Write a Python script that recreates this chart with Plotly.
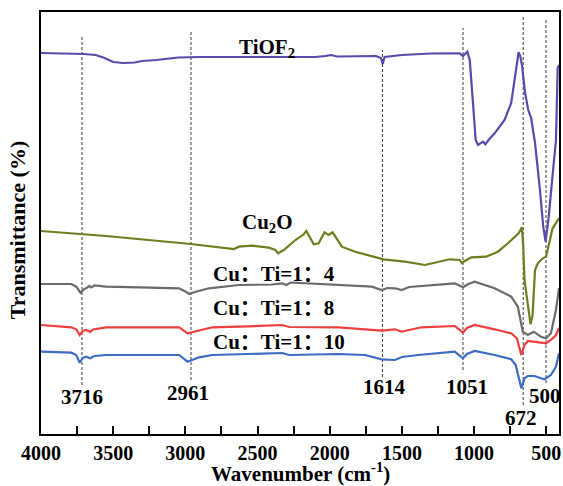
import plotly.graph_objects as go

# ---------------- data (wavenumber in cm-1, transmittance in a.u.) ----------------
wn_tiof2 = [4000, 3800, 3700, 3620, 3560, 3500, 3430, 3350, 3300, 3200, 3050, 2900, 2500, 2100,
            2030, 1990, 1950, 1800, 1680, 1645, 1633, 1620, 1500, 1300, 1100, 1077, 1060, 1047,
            1030, 1007, 989, 973, 955, 938, 922, 900, 858, 789, 743, 716, 700, 692, 680, 667,
            647, 625, 605, 578, 544, 521, 505, 483, 455, 433, 421, 412]
t_tiof2 = [381, 380.5, 380, 379, 376, 372, 371, 371.5, 373, 374, 376.5, 377, 377, 377,
           378, 379, 377.5, 377.5, 378, 376, 370, 377, 379, 380.5, 380.7, 378, 380, 382.3,
           374, 324, 294, 289, 291, 292.3, 289.7, 294, 300.7, 314, 331, 357.3, 376, 381.7, 378, 367.3,
           341, 324, 316, 291, 244, 207.3, 192.3, 217.3, 261, 294, 366, 369]

wn_cu2o = [4000, 3726, 3549, 2962, 2663, 2629, 2537, 2422, 2376, 2358, 2318, 2238, 2180, 2162,
           2111, 2077, 2036, 2008, 1980, 1916, 1824, 1628, 1479, 1341, 1251, 1168, 1099, 1085,
           1065, 1019, 916, 835, 766, 716, 692, 669, 660, 651, 628, 609, 595, 587, 578, 559,
           524, 502, 479, 456, 412]
t_cu2o = [203, 199.7, 198, 190, 185, 187.3, 188.3, 186.3, 184, 180.7, 184, 194, 199.7, 203,
          189.7, 190.7, 201.7, 199, 201.7, 187.3, 182.3, 174.7, 172.3, 169, 171.7, 174.7, 174, 171,
          173, 176.7, 177.3, 182.3, 190.7, 197.3, 200.7, 206.7, 189, 154, 131, 109.7, 119, 137.3, 164, 170.7,
          175.7, 177.3, 190.7, 205.7, 215.7]

wn_r4 = [4000, 3790, 3756, 3726, 3700, 3687, 3665, 3652, 3630, 3549, 3319, 3043, 2997, 2974,
         2928, 2836, 2629, 2400, 2330, 2300, 2270, 1939, 1709, 1640, 1600, 1548, 1502, 1450,
         1364, 1249, 1134, 1077, 1040, 996, 858, 743, 697, 663, 628, 587, 537, 502, 468, 433, 412]
t_r4 = [150, 150, 147.3, 141.3, 145, 145.7, 148, 146.5, 148.5, 147.3, 146.7, 145.7, 142.3, 140,
        142.3, 145.7, 149, 149.5, 150.7, 149, 151.5, 149, 147.3, 144, 146, 145.7, 144, 147,
        148, 149, 150.7, 146.7, 150, 152.3, 145.7, 137.3, 127.3, 102.3, 99, 102.3, 97.3, 95.7, 100.7, 124, 146]

wn_r8 = [4000, 3790, 3756, 3732, 3710, 3687, 3660, 3640, 3549, 3043, 2985, 2905, 2813, 2629,
         2330, 2280, 1939, 1640, 1548, 1502, 1364, 1134, 1077, 1050, 996, 858, 743, 704, 673,
         651, 628, 537, 502, 468, 433, 412]
t_r8 = [109, 106.7, 104.7, 99, 103, 104, 102, 104.5, 106.7, 106.7, 100.7, 103.3, 106.7, 107.3,
        109, 107, 106.7, 103.3, 104.7, 102.3, 106.7, 108, 101.3, 106, 109, 104.7, 100.7, 95.7, 79,
        89, 93, 91.3, 90.7, 94, 99, 106]

wn_r10 = [4000, 3790, 3756, 3732, 3710, 3687, 3660, 3630, 3549, 3043, 2985, 2905, 2813, 2629,
          2330, 2280, 1939, 1755, 1640, 1548, 1500, 1387, 1249, 1134, 1077, 1050, 996, 858, 743,
          712, 673, 651, 628, 582, 514, 468, 433, 412]
t_r10 = [82.3, 81.3, 79, 71.3, 76, 77.3, 75.7, 78, 79, 79, 72.3, 76.7, 79, 80,
         81, 79, 80, 79, 74.7, 74, 77, 79, 80.7, 82.3, 75.7, 80, 83, 79, 74.7,
         69, 45.7, 55.7, 58, 58, 54.7, 59, 67.3, 80.7]

series_wn = [wn_tiof2, wn_cu2o, wn_r4, wn_r8, wn_r10]
series_t = [t_tiof2, t_cu2o, t_r4, t_r8, t_r10]
series_colors = ["#5A49AA", "#6E7D1F", "#6B6B6B", "#EE3E3E", "#3D6CC4"]
series_labels = ["TiOF<sub>2</sub>", "Cu<sub>2</sub>O", "Cu：Ti=1：4", "Cu：Ti=1：8", "Cu：Ti=1：10"]
series_label_wn = [2436, 2429, 2823, 2823, 2823]
series_label_t = [386, 211, 160, 125.7, 92.3]
series_label_anchor = ["center", "center", "left", "left", "left"]

peak_line_wn = [3716, 2961, 1635, 1077, 660, 502]
peak_line_top = [399, 402, 384, 406, 419, 415]
peak_line_bottom = [49, 54, 57, 64, 29, 51]
peak_labels = ["3716", "2961", "1614", "1051", "672", "500"]
peak_label_wn = [3719, 2983, 1618, 1049, 674, 511]
peak_label_t = [37, 41, 47, 47, 16, 38]

x_tickvals = [4000, 3500, 3000, 2500, 2000, 1500, 1000, 500]

FONT = "Liberation Serif, Times New Roman, Noto Sans CJK SC, serif"

fig = go.Figure()

for xw, top, bot in zip(peak_line_wn, peak_line_top, peak_line_bottom):
    fig.add_trace(go.Scatter(x=[xw, xw], y=[bot, top], mode="lines",
                             line=dict(color="#3a3a3a", width=1, dash="3px,2px"),
                             showlegend=False, hoverinfo="skip"))

for xs, ys, c in zip(series_wn, series_t, series_colors):
    fig.add_trace(go.Scatter(x=xs, y=ys, mode="lines", line=dict(color=c, width=2.2),
                             showlegend=False))

for txt, xw, yt, anc in zip(series_labels, series_label_wn, series_label_t, series_label_anchor):
    fig.add_annotation(x=xw, y=yt, text=txt, showarrow=False, xanchor=anc, yanchor="middle",
                       font=dict(family=FONT, size=21, color="black", weight="bold"))

for txt, xw, yt in zip(peak_labels, peak_label_wn, peak_label_t):
    fig.add_annotation(x=xw, y=yt, text=txt, showarrow=False, xanchor="center", yanchor="middle",
                       font=dict(family=FONT, size=21, color="black", weight="bold"))

fig.add_annotation(xref="paper", yref="paper", x=-0.046, y=0.483, text="Transmittance (%)",
                   textangle=-90, showarrow=False, xanchor="center", yanchor="middle",
                   font=dict(family=FONT, size=22, color="black", weight="bold"))

fig.add_annotation(xref="paper", yref="paper", x=0.5, y=-0.128, text="Wavenumber (cm<sup>-1</sup>)",
                   showarrow=False, xanchor="center", yanchor="bottom",
                   font=dict(family=FONT, size=21, color="black", weight="bold"))

fig.update_layout(
    width=563, height=486,
    margin=dict(l=41, r=2, t=12, b=52),
    paper_bgcolor="white", plot_bgcolor="white",
    xaxis=dict(range=[4000, 412], tickvals=x_tickvals, ticks="inside", ticklen=8, tickwidth=1.5,
               tickcolor="black", showline=True, linecolor="black", linewidth=2, mirror=True,
               showgrid=False, zeroline=False,
               minor=dict(ticks="inside", dtick=250, tick0=0, ticklen=8, tickwidth=1.5, tickcolor="black",
                          showgrid=False),
               tickfont=dict(family=FONT, size=20, color="black", weight="bold")),
    yaxis=dict(range=[0, 422], showticklabels=False, ticks="", showline=True, linecolor="black",
               linewidth=2, mirror=True, showgrid=False, zeroline=False),
)

fig.write_html("out.html")
